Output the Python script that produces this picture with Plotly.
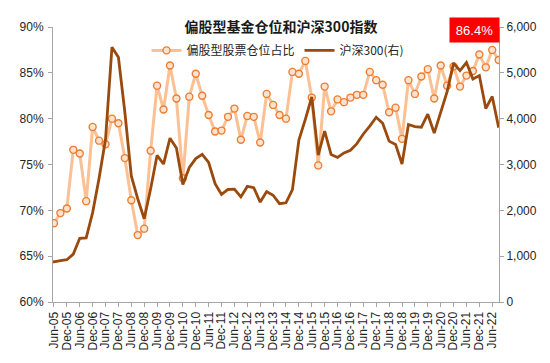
import plotly.graph_objects as go

# Quarter-end categories (Mar-05 lies just outside the visible range, as in the reference)
quarters = [
    "Mar-05", "Jun-05", "Sep-05", "Dec-05",
    "Mar-06", "Jun-06", "Sep-06", "Dec-06",
    "Mar-07", "Jun-07", "Sep-07", "Dec-07",
    "Mar-08", "Jun-08", "Sep-08", "Dec-08",
    "Mar-09", "Jun-09", "Sep-09", "Dec-09",
    "Mar-10", "Jun-10", "Sep-10", "Dec-10",
    "Mar-11", "Jun-11", "Sep-11", "Dec-11",
    "Mar-12", "Jun-12", "Sep-12", "Dec-12",
    "Mar-13", "Jun-13", "Sep-13", "Dec-13",
    "Mar-14", "Jun-14", "Sep-14", "Dec-14",
    "Mar-15", "Jun-15", "Sep-15", "Dec-15",
    "Mar-16", "Jun-16", "Sep-16", "Dec-16",
    "Mar-17", "Jun-17", "Sep-17", "Dec-17",
    "Mar-18", "Jun-18", "Sep-18", "Dec-18",
    "Mar-19", "Jun-19", "Sep-19", "Dec-19",
    "Mar-20", "Jun-20", "Sep-20", "Dec-20",
    "Mar-21", "Jun-21", "Sep-21", "Dec-21",
    "Mar-22", "Jun-22", "Sep-22",
]

# 偏股型股票仓位占比 (%)
equity_position = [
    67.1, 68.6, 69.7, 70.2,
    76.6, 76.2, 71.0, 79.1,
    77.6, 77.2, 80.0, 79.5,
    75.7, 71.1, 67.3, 68.0,
    76.5, 83.6, 81.0, 85.8,
    82.2, 73.5, 82.4, 84.9,
    82.5, 80.4, 78.6, 78.7,
    80.2, 81.1, 77.7, 80.3,
    80.2, 77.4, 82.7, 81.5,
    80.4, 80.0, 85.1, 84.9,
    86.3, 82.3, 74.9, 83.5,
    80.8, 82.1, 81.8, 82.3,
    82.6, 82.6, 85.1, 84.2,
    83.7, 80.7, 81.2, 77.8,
    84.2, 82.7, 84.6, 85.4,
    82.2, 85.8, 83.6, 85.7,
    83.5, 84.7, 85.2, 87.0,
    85.6, 87.5, 86.4,
]

# 沪深300 (right axis)
csi300 = [
    900, 875, 905, 923,
    1045, 1390, 1400, 1950,
    2700, 3550, 5560, 5338,
    4140, 2750, 2250, 1817,
    2470, 3200, 3010, 3575,
    3358, 2563, 2935, 3128,
    3222, 3044, 2580, 2346,
    2455, 2462, 2293, 2522,
    2495, 2180, 2409, 2330,
    2146, 2165, 2450, 3533,
    3986, 4473, 3203, 3731,
    3218, 3154, 3253, 3310,
    3456, 3666, 3837, 4031,
    3899, 3510, 3438, 3011,
    3872, 3826, 3814, 4097,
    3686, 4164, 4587, 5211,
    5048, 5224, 4866, 4940,
    4222, 4485, 3804,
]

tick_labels = [
    "Jun-05", "Dec-05", "Jun-06", "Dec-06", "Jun-07", "Dec-07", "Jun-08", "Dec-08",
    "Jun-09", "Dec-09", "Jun-10", "Dec-10", "Jun-11", "Dec-11", "Jun-12", "Dec-12",
    "Jun-13", "Dec-13", "Jun-14", "Dec-14", "Jun-15", "Dec-15", "Jun-16", "Dec-16",
    "Jun-17", "Dec-17", "Jun-18", "Dec-18", "Jun-19", "Dec-19", "Jun-20", "Dec-20",
    "Jun-21", "Dec-21", "Jun-22",
]

latest_label = "86.4%"

x = list(range(len(quarters)))
tickvals = [quarters.index(t) for t in tick_labels]

AXIS_COLOR = "#A6A6A6"
TEXT_COLOR = "#262626"
LATIN = "Liberation Sans, Arial, sans-serif"
CJK = "Noto Sans CJK SC, Liberation Sans, sans-serif"

fig = go.Figure()
fig.add_trace(go.Scatter(
    x=x, y=[v / 100 for v in equity_position],
    name="偏股型股票仓位占比",
    mode="lines+markers",
    line=dict(color="#FBC093", width=3),
    marker=dict(symbol="circle", size=7, color="#FCE3CF",
                line=dict(color="#EE7D31", width=1.4)),
))
fig.add_trace(go.Scatter(
    x=x, y=csi300,
    name="沪深300(右)",
    yaxis="y2",
    mode="lines",
    line=dict(color="#9A4A0C", width=2.8),
))

# The page body has an 8px default margin, so the figure is 542x355
fig.update_layout(
    width=542, height=355,
    margin=dict(l=45, r=51, t=19, b=61),
    paper_bgcolor="white",
    plot_bgcolor="white",
    font=dict(family=LATIN, size=12, color=TEXT_COLOR),
    title=dict(
        text="<b>偏股型基金仓位和沪深300指数</b>",
        font=dict(family=CJK, size=14, color="#1A1A1A"),
        x=0.5037, xanchor="center", xref="container",
        y=0.947, yanchor="middle", yref="container",
    ),
    showlegend=True,
    legend=dict(
        orientation="h",
        x=0.5045, xanchor="center",
        y=0.915, yanchor="middle",
        font=dict(family=CJK, size=12, color=TEXT_COLOR),
        bgcolor="rgba(0,0,0,0)",
        itemwidth=30,
        tracegroupgap=0,
    ),
    xaxis=dict(
        range=[0.85, 70.05],
        tickmode="array", tickvals=tickvals, ticktext=tick_labels,
        tickangle=-90,
        showline=True, linecolor=AXIS_COLOR, linewidth=1,
        ticks="outside", ticklen=4, tickcolor=AXIS_COLOR,
        showgrid=False, zeroline=False,
        tickfont=dict(family=LATIN, size=12, color=TEXT_COLOR),
    ),
    yaxis=dict(
        range=[0.6, 0.9], dtick=0.05, tick0=0.6, tickformat=".0%",
        showline=True, linecolor=AXIS_COLOR, linewidth=1,
        ticks="outside", ticklen=4, tickcolor=AXIS_COLOR,
        ticklabelstandoff=2,
        showgrid=False, zeroline=False,
        tickfont=dict(family=LATIN, size=12, color=TEXT_COLOR),
    ),
    yaxis2=dict(
        range=[0, 6000], dtick=1000, tick0=0, tickformat=",d",
        overlaying="y", side="right",
        showline=True, linecolor=AXIS_COLOR, linewidth=1,
        ticks="outside", ticklen=4, tickcolor=AXIS_COLOR,
        showgrid=False, zeroline=False,
        tickfont=dict(family=LATIN, size=12, color=TEXT_COLOR),
    ),
    annotations=[dict(
        text=latest_label,
        xref="paper", yref="paper",
        x=1.003, xanchor="right",
        y=0.9887, yanchor="middle",
        showarrow=False,
        width=47, height=22,
        bgcolor="#FF0000",
        font=dict(family=LATIN, size=13, color="white"),
    )],
)

fig.write_html("out.html")
